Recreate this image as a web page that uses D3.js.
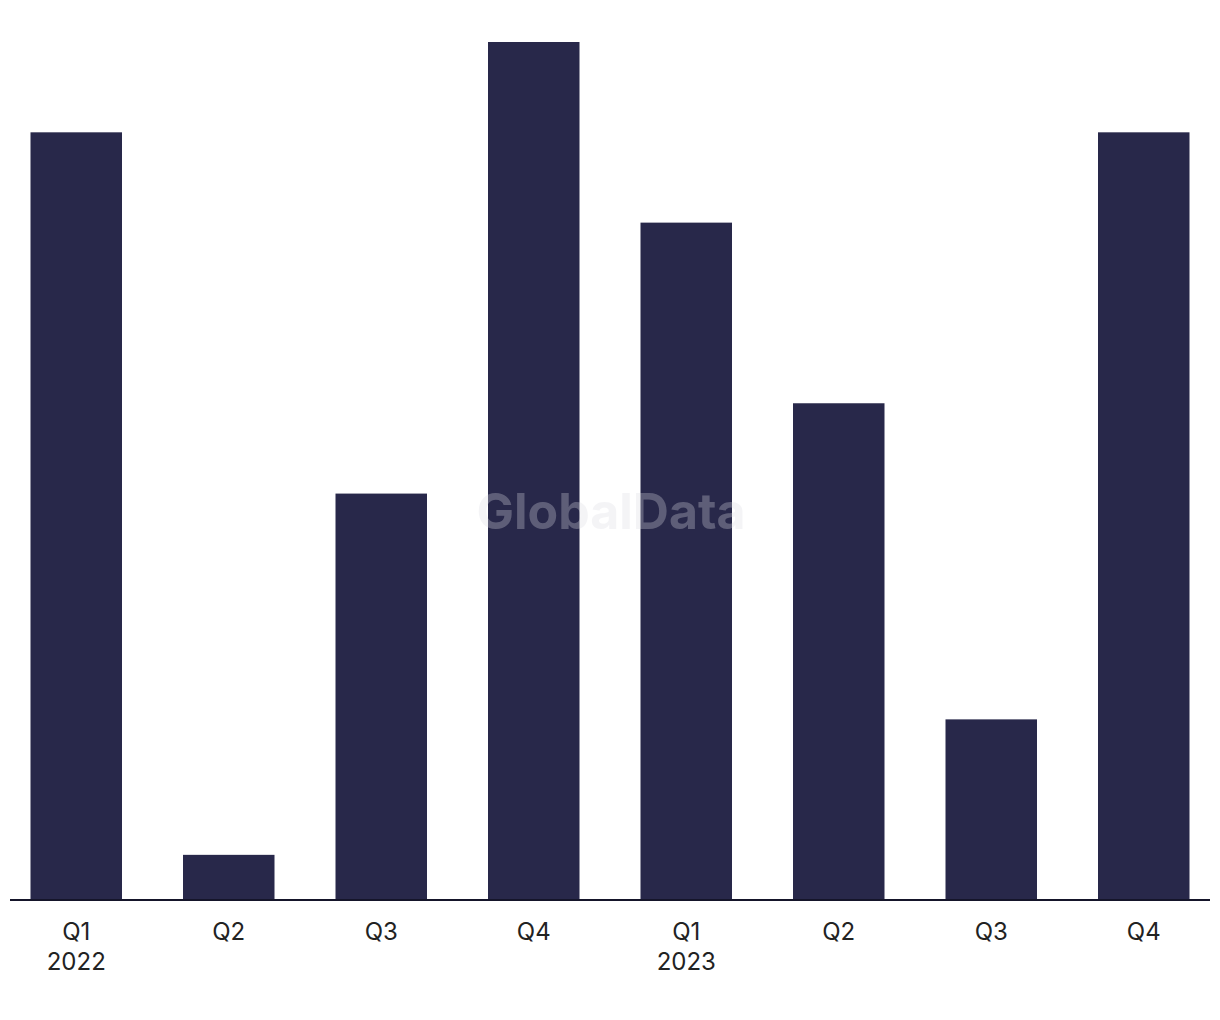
<!DOCTYPE html>
<html>
<head>
<meta charset="utf-8">
<script src="https://cdn.jsdelivr.net/npm/d3@7"></script>
<style>
  body { margin: 0; background: #fff; }
  svg { display: block; }
</style>
</head>
<body>
<div id="chart-area"></div>
<script>
let quarters = ["Q1", "Q2", "Q3", "Q4", "Q1", "Q2", "Q3", "Q4"];
let years = ["2022", "", "", "", "2023", "", "", ""];
let values = [17, 1, 9, 19, 15, 11, 4, 17];

let W = 1220, H = 1020;
let baseY = 900, topY = 42;

let svg = d3.select("#chart-area")
    .append("svg")
    .attr("width", W)
    .attr("height", H);

let keys = values.map(function(d, i){ return i; });

let xScale = d3.scaleBand()
    .domain(keys)
    .range([0, 1220])
    .paddingInner(0.4)
    .paddingOuter(0.2);

let yScale = d3.scaleLinear()
    .domain([0, d3.max(values)])
    .range([baseY, topY]);

// bars
svg.selectAll("rect.bar")
    .data(values)
    .enter()
    .append("rect")
    .attr("class", "bar")
    .attr("x", function(d, i){ return xScale(i); })
    .attr("y", function(d){ return yScale(d); })
    .attr("width", xScale.bandwidth())
    .attr("height", function(d){ return baseY - yScale(d); })
    .attr("fill", "#28284a");

// watermark
svg.append("text")
    .attr("x", 611)
    .attr("y", 529)
    .attr("text-anchor", "middle")
    .attr("font-family", "Inter, 'Noto Sans', sans-serif")
    .attr("font-weight", "bold")
    .attr("font-size", "50px")
    .attr("fill", "#dcdce4")
    .attr("opacity", 0.3)
    .text("GlobalData");

// x axis
let xAxis = d3.axisBottom(xScale)
    .tickSize(0)
    .tickPadding(0)
    .tickFormat(function(i){ return quarters[i]; });

let ax = svg.append("g")
    .attr("transform", "translate(0," + baseY + ")")
    .call(xAxis);

ax.select(".domain").remove();
ax.selectAll("text").remove();

svg.append("line")
    .attr("x1", 10).attr("x2", 1210)
    .attr("y1", baseY).attr("y2", baseY)
    .attr("stroke", "#15152a")
    .attr("stroke-width", 2);

ax.selectAll(".tick").each(function(i){
    let t = d3.select(this).append("text")
        .attr("text-anchor", "middle")
        .attr("font-family", "Inter, 'Noto Sans', sans-serif")
        .attr("font-size", "24px")
        .attr("fill", "#222");
    t.append("tspan").attr("x", 0).attr("y", 40).text(quarters[i]);
    if (years[i]) t.append("tspan").attr("x", 0).attr("y", 70).text(years[i]);
});
</script>
</body>
</html>
